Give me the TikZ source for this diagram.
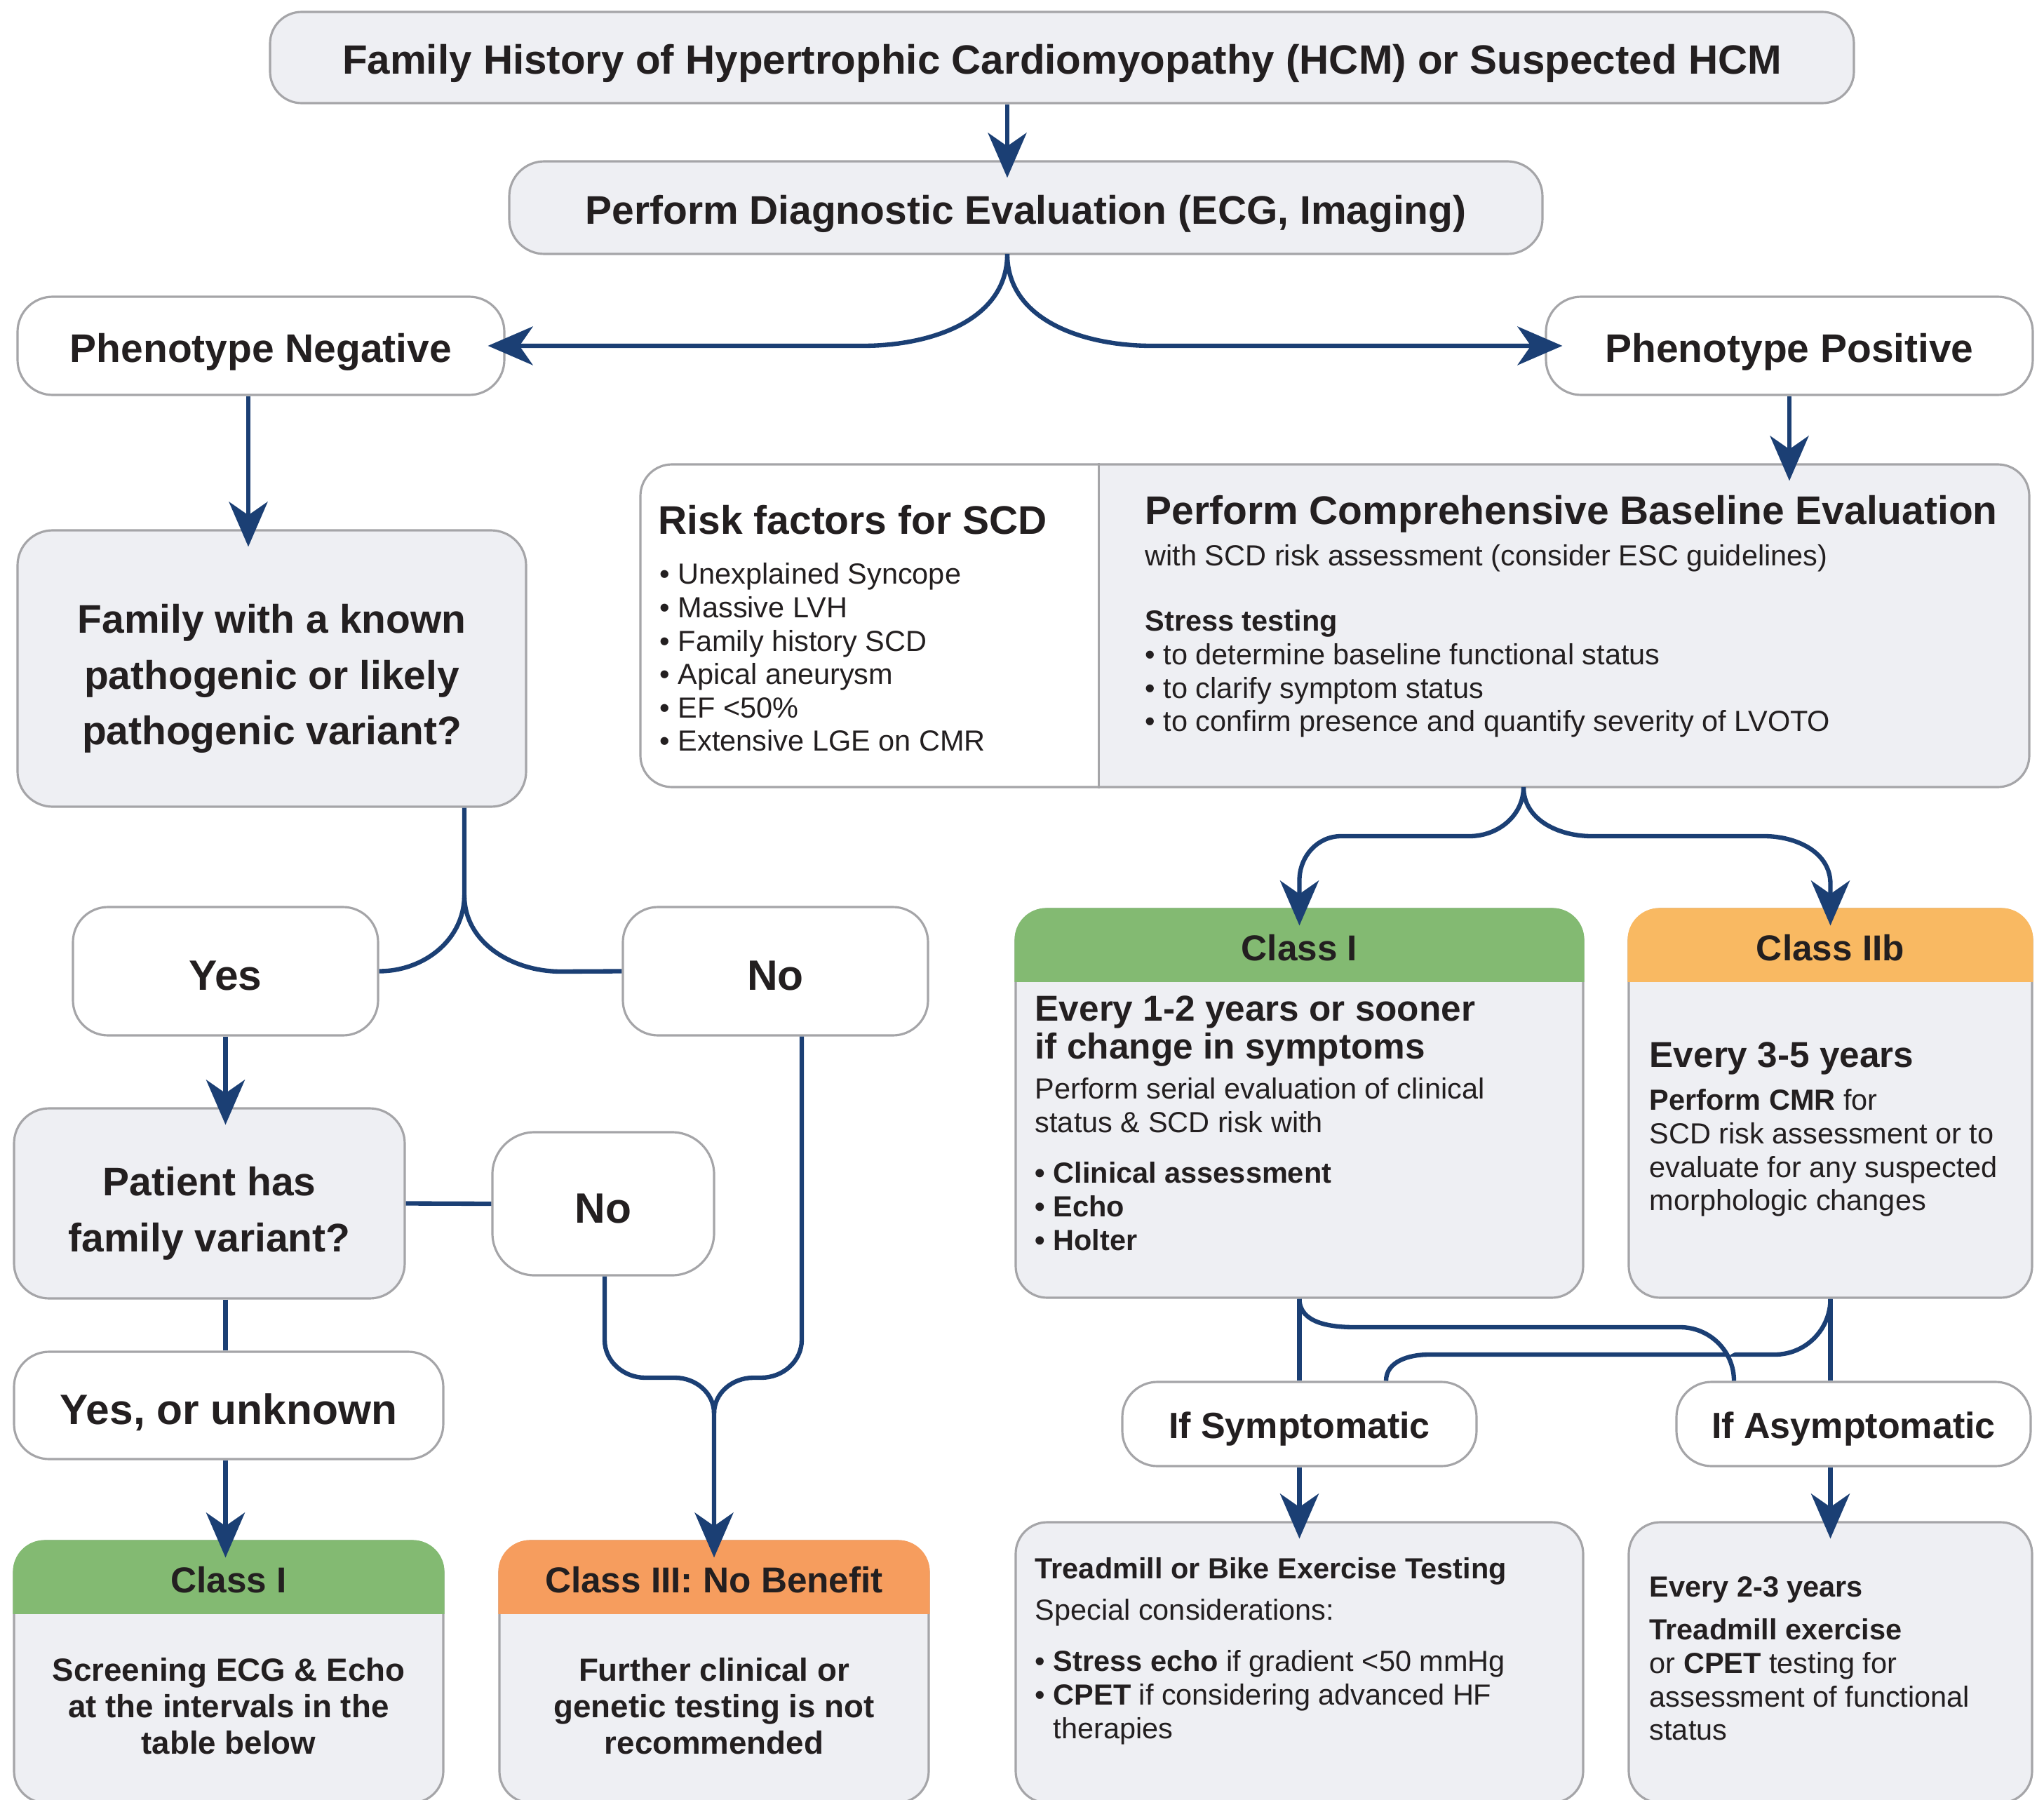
\documentclass[tikz,border=0pt]{standalone}
\usepackage{fontspec}
\setmainfont{Liberation Sans}
\usetikzlibrary{arrows.meta}

\definecolor{navy}{RGB}{27,63,116}
\definecolor{panel}{RGB}{238,239,243}
\definecolor{edge}{RGB}{165,165,168}
\definecolor{ink}{RGB}{35,31,32}
\definecolor{classI}{RGB}{131,186,114}
\definecolor{classIIb}{RGB}{249,185,98}
\definecolor{classIII}{RGB}{246,157,94}

\begin{document}
\begin{tikzpicture}[
    pill/.style={rectangle, rounded corners=5mm, draw=edge, line width=0.9pt, fill=white, inner sep=0pt, align=center, text=ink},
    shaded/.style={pill, fill=panel},
    classbox/.style={shaded, rounded corners=4.5mm},
    title/.style={font=\fontsize{16.2}{22.7}\selectfont\bfseries},
    oneline/.style={text height=13.5pt, text depth=0pt},
    answer/.style={font=\fontsize{17.2}{20}\selectfont\bfseries, text height=15.6pt, text depth=0pt},
    choice/.style={pill, font=\fontsize{14.8}{16}\selectfont\bfseries, text height=11.9pt, text depth=0pt, minimum width=5.05cm, minimum height=1.20cm},
    hdrtext/.style={font=\fontsize{14.6}{16}\selectfont\bfseries, text=ink, text height=12.6pt, text depth=0pt},
    txt/.style={anchor=north west, inner sep=0pt, align=left, text=ink, font=\fontsize{11.8}{13.55}\selectfont},
    txtb/.style={txt, font=\fontsize{11.8}{13.55}\selectfont\bfseries},
    lead/.style={txt, font=\fontsize{14.6}{15.4}\selectfont\bfseries},
    note/.style={anchor=north, inner sep=0pt, align=center, text=ink, font=\fontsize{13}{14.7}\selectfont\bfseries},
    arr/.style={-{Stealth[length=6.4mm, width=5.5mm, inset=1.9mm]}, line width=1.8pt, navy, shorten >=-2.5mm},
    link/.style={line width=1.8pt, navy},
    halo/.style={preaction={draw=white, line width=6pt, shorten <=4mm, shorten >=4mm}}
]
    \useasboundingbox (0,0) rectangle (29.14,-25.66);

    % Top of the chart
    \node[shaded, title, oneline, font=\fontsize{16.6}{20}\selectfont\bfseries, rounded corners=4.5mm, minimum width=22.58cm, minimum height=1.30cm] (hist) at (15.14,-0.82) {Family History of Hypertrophic Cardiomyopathy (HCM) or Suspected HCM};
    \node[shaded, title, oneline, minimum width=14.73cm, minimum height=1.32cm] (diag) at (14.625,-2.96) {Perform Diagnostic Evaluation (ECG, Imaging)};
    \node[pill, title, oneline, minimum width=6.94cm, minimum height=1.40cm] (neg) at (3.72,-4.93) {Phenotype Negative};
    \node[pill, title, oneline, minimum width=6.94cm, minimum height=1.40cm] (pos) at (25.51,-4.93) {Phenotype Positive};

    % Phenotype negative branch
    \node[shaded, title, minimum width=7.25cm, minimum height=3.94cm] (fam) at (3.875,-9.53) {\rule{0pt}{20pt}Family with a known\\pathogenic or likely\\pathogenic variant?};
    \node[pill, answer, minimum width=4.35cm, minimum height=1.83cm] (yes) at (3.215,-13.845) {Yes};
    \node[pill, answer, minimum width=4.35cm, minimum height=1.83cm] (no1) at (11.055,-13.845) {No};
    \node[shaded, title, minimum width=5.57cm, minimum height=2.71cm] (pat) at (2.985,-17.155) {\rule{0pt}{20pt}Patient has\\family variant?};
    \node[pill, answer, rounded corners=6mm, minimum width=3.16cm, minimum height=2.04cm] (no2) at (8.60,-17.16) {No};
    \node[pill, answer, minimum width=6.12cm, minimum height=1.53cm] (yun) at (3.26,-20.035) {Yes, or unknown};
    \node[classbox, minimum width=6.12cm, minimum height=3.73cm] (c1l) at (3.26,-23.835) {};
    \node[classbox, minimum width=6.12cm, minimum height=3.73cm] (c3) at (10.18,-23.835) {};

    % Phenotype positive branch
    \node[shaded, rounded corners=4.5mm, minimum width=19.80cm, minimum height=4.60cm,
          path picture={\fill[white, sharp corners] (path picture bounding box.north west) rectangle ([xshift=6.55cm]path picture bounding box.south west);}] (risk) at (19.03,-8.92) {};
    \draw[draw=edge, line width=0.9pt] ([xshift=6.55cm]risk.north west) -- ([xshift=6.55cm]risk.south west);
    \node[classbox, minimum width=8.09cm, minimum height=5.54cm] (c1) at (18.525,-15.73) {};
    \node[classbox, minimum width=5.75cm, minimum height=5.54cm] (c2b) at (26.095,-15.73) {};
    \node[choice] (sym) at (18.525,-20.30) {If Symptomatic};
    \node[choice] (asym) at (26.425,-20.30) {If Asymptomatic};
    \node[classbox, minimum width=8.09cm, minimum height=4.0cm] (tread) at (18.525,-23.70) {};
    \node[classbox, minimum width=5.75cm, minimum height=4.0cm] (e23) at (26.095,-23.70) {};

    % Class headers
    \foreach \b/\c in {c1l/classI, c3/classIII, c1/classI, c2b/classIIb}
        \fill[\c, rounded corners=4.5mm] ([yshift=-10.55mm]\b.north west) -- (\b.north west) -- (\b.north east) -- ([yshift=-10.55mm]\b.north east);
    \node[hdrtext] (c1lh) at ([yshift=-5.3mm]c1l.north) {Class I};
    \node[hdrtext] (c3h) at ([yshift=-5.3mm]c3.north) {Class III: No Benefit};
    \node[hdrtext] (c1h) at ([yshift=-5.3mm]c1.north) {Class I};
    \node[hdrtext] (c2bh) at ([yshift=-5.3mm]c2b.north) {Class IIb};

    % Box texts
    \node[note] (c1ltxt) at (3.26,-23.63) {Screening ECG \& Echo\\at the intervals in the\\table below};
    \node[note] (c3txt) at (10.18,-23.63) {Further clinical or\\genetic testing is not\\recommended};

    \node[txt, title] (riskhd) at (9.38,-7.20) {Risk factors for SCD};
    \node[txt] (risklist) at (9.40,-8.02) {• Unexplained Syncope\\• Massive LVH\\• Family history SCD\\• Apical aneurysm\\• EF <50\%\\• Extensive LGE on CMR};
    \node[txt, title] (basehd) at (16.32,-7.06) {Perform Comprehensive Baseline Evaluation};
    \node[txt] (basesub) at (16.32,-7.76) {with SCD risk assessment (consider ESC guidelines)};
    \node[txt] (stress) at (16.32,-8.69) {\textbf{Stress testing}\\• to determine baseline functional status\\• to clarify symptom status\\• to confirm presence and quantify severity of LVOTO};

    \node[lead] (c1lead) at (14.75,-14.19) {Every 1-2 years or sooner\\if change in symptoms};
    \node[txt] (c1sub) at (14.75,-15.36) {Perform serial evaluation of clinical\\status \& SCD risk with};
    \node[txtb] (c1list) at (14.75,-16.56) {• Clinical assessment\\• Echo\\• Holter};

    \node[lead] (c2blead) at (23.51,-14.85) {Every 3-5 years};
    \node[txt] (c2bsub) at (23.51,-15.52) {\textbf{Perform CMR} for\\SCD risk assessment or to\\evaluate for any suspected\\morphologic changes};

    \node[txtb] (treadhd) at (14.75,-22.20) {Treadmill or Bike Exercise Testing};
    \node[txt] (treadsub) at (14.75,-22.79) {Special considerations:};
    \node[txt] (treadlist) at (14.75,-23.52) {• \textbf{Stress echo} if gradient <50 mmHg\\• \textbf{CPET} if considering advanced HF\\\phantom{• }therapies};

    \node[txtb] (e23hd) at (23.51,-22.47) {Every 2-3 years};
    \node[txt] (e23sub) at (23.51,-23.07) {\textbf{Treadmill exercise}\\or \textbf{CPET} testing for\\assessment of functional\\status};

    % Split points
    \coordinate (dsplit) at (14.36,-3.62);
    \coordinate (fsplit) at (6.62,-12.76);
    \coordinate (rsplit) at (21.72,-11.22);
    \coordinate (c3in) at (10.18,-20.15);

    % Connectors, top
    \draw[arr] ([xshift=-7.8mm]hist.south) -- ([xshift=-7.8mm]hist.south |- diag.north);
    \draw[arr] (dsplit) to[out=-90,in=0] (12.30,-4.93) -- (neg.east);
    \draw[arr] (dsplit) to[out=-90,in=180] (16.42,-4.93) -- (pos.west);

    % Connectors, negative side
    \draw[arr] ([xshift=-1.8mm]neg.south) -- ([xshift=-1.8mm]neg.south |- fam.north);
    \draw[link] (fsplit |- fam.south) -- (fsplit) to[out=-90,in=0] (yes.east);
    \draw[link] (fsplit) to[out=-90,in=180] (8.0,-13.85) -- (no1.west);
    \draw[arr] (yes.south) -- (yes.south |- pat.north);
    \draw[link] (pat.east) -- (no2.west);
    \draw[link] (yes.south |- pat.south) -- (yes.south |- yun.north);
    \draw[arr] (yes.south |- yun.south) -- (yes.south |- c1l.north);
    \draw[arr] ([xshift=0.2mm]no2.south) -- (8.62,-19.10) to[out=-90,in=180] (9.20,-19.64) -- (9.62,-19.64) to[out=0,in=90] (c3in) -- (c3.north);
    \draw[link] ([xshift=3.75mm]no1.south) -- (11.43,-19.10) to[out=-90,in=0] (10.85,-19.64) -- (10.74,-19.64) to[out=180,in=90] (c3in);

    % Connectors, positive side
    \draw[arr] (pos.south) -- (pos.south |- risk.north);
    \draw[arr] (rsplit) to[out=-90,in=0] (20.95,-11.92) -- (19.12,-11.92) to[out=180,in=90] (18.525,-12.55) -- (c1.north);
    \draw[arr] (rsplit) to[out=-90,in=180] (22.69,-11.92) -- (25.15,-11.92) to[out=0,in=90] (26.095,-12.6) -- (c2b.north);
    \draw[link] (c2b.south) -- (c2b.south |- asym.north);
    \draw[link] (c2b.south) to[out=-90,in=0] (25.30,-19.31) -- (20.37,-19.31) to[out=180,in=90] ([xshift=12.35mm]sym.north);
    \draw[link, halo] (c1.south) to[out=-90,in=180] (19.31,-18.92) -- (23.95,-18.92) to[out=0,in=90] ([xshift=-17.05mm]asym.north);
    \draw[link] (c1.south) -- (sym.north);
    \draw[arr] (sym.south) -- (tread.north);
    \draw[arr] (asym.south -| e23.north) -- (e23.north);

\end{tikzpicture}
\end{document}
